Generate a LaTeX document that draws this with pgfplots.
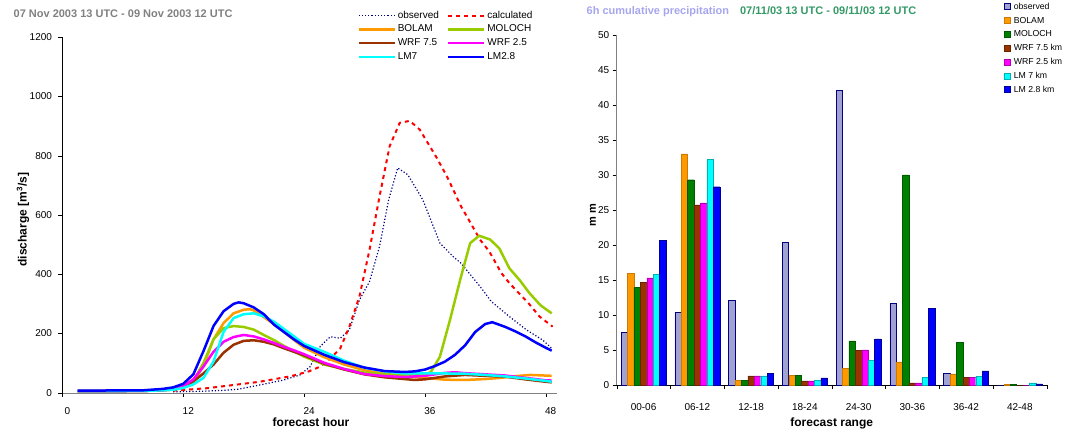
\documentclass[border=0pt]{standalone}
\usepackage{fontspec}
\setmainfont{Liberation Sans}
\usepackage{pgfplots}
\pgfplotsset{compat=1.18}
\definecolor{obsnavy}{HTML}{000080}
\definecolor{bolam}{HTML}{FF9900}
\definecolor{moloch}{HTML}{99CC00}
\definecolor{wrfa}{HTML}{993300}
\definecolor{wrfb}{HTML}{FF00FF}
\definecolor{lmseven}{HTML}{00FFFF}
\definecolor{lmtwo}{HTML}{0000FF}
\definecolor{molochbar}{HTML}{008000}
\definecolor{obsfill}{HTML}{A2A2D2}
\definecolor{titlegray}{HTML}{808080}
\definecolor{lav}{HTML}{A6A6EE}
\definecolor{sea}{HTML}{339966}
\begin{document}
\begin{tikzpicture}[x=1pt,y=1pt]
\useasboundingbox (0,0) rectangle (1065,434);
\begin{axis}[
  at={(62.5pt,41.3pt)}, anchor=south west,
  width=494.2pt, height=355.4pt, scale only axis,
  xmin=0, xmax=49.1, ymin=0, ymax=1200,
  axis lines=left, axis line style={-},
  x axis line style={gray},
  xtick={0,12,24,36,48}, ytick={0,200,...,1200},
  tick align=outside, major tick length=4pt,
  tick style={black},
  /pgf/number format/assume math mode=true,
  /pgf/number format/1000 sep={},
  tick label style={font=\fontsize{10}{12}\selectfont},
  xticklabel style={xshift=5pt, yshift=-7pt},
  yticklabel style={xshift=-3pt},
  clip=false,
  xlabel={\textbf{forecast hour}},
  xlabel style={at={(axis description cs:0.503,0)}, anchor=center, yshift=-29.3pt, font=\fontsize{12}{14}\selectfont},
  ylabel={\textbf{discharge [m\textsuperscript{3}/s]}},
  ylabel style={at={(axis description cs:0,0.487)}, anchor=center, yshift=39.5pt, font=\fontsize{12}{14}\selectfont},
  title={\textbf{07 Nov 2003 13 UTC - 09 Nov 2003 12 UTC}},
  title style={at={(axis description cs:-0.106,1.0656)}, anchor=west, yshift=-6pt, text=titlegray, font=\fontsize{11}{13}\selectfont},
  legend columns=2,
  legend cell align=left,
  legend image code/.code={\draw[#1] (0pt,0pt) -- (36pt,0pt);},
  legend style={at={(axis description cs:0.590,1.0796)}, anchor=north west, draw=none, fill=none,
    font=\fontsize{10}{12}\selectfont,
    nodes={inner sep=0pt, text height=7pt, text depth=2pt},
    row sep=4.7pt,
    /tikz/every odd column/.append style={column sep=2pt},
    /tikz/every even column/.append style={column sep=8pt}},
]
\addplot[obsnavy, line width=1.2pt, dash pattern=on 1.2pt off 2pt] coordinates {
(11,3) (14,5) (16,8) (17.5,12) (19,22) (20.6,33) (22,43) (23.6,60) (24.6,88) (25.6,156) (26.6,189) (27.6,184) (28.5,212) (29.5,313) (30.5,375) (31.5,494) (32.4,651) (33.3,759) (34.3,736) (35.3,680) (35.8,651) (37.5,505) (38.8,460) (39.6,437) (41.5,358) (42.6,308) (44.4,257) (46.1,212) (47.7,178) (48.6,150)};
\addlegendentry{observed}
\addplot[red, line width=2pt, dash pattern=on 4pt off 4pt] coordinates {
(11,7) (14.3,15) (17,26) (19.6,37) (22.6,55) (24.4,71) (25.6,88) (26.6,115) (27.6,150) (28.5,223) (29.5,325) (30.5,482) (31.5,663) (32.5,832) (33.5,911) (34.5,918) (35.5,888) (37.2,792) (38.2,730) (39.6,629) (41.5,516) (42.4,477) (43.6,404) (44.4,370) (46.3,302) (47.4,257) (48.7,223)};
\addlegendentry{calculated}
\addplot[bolam, line width=2.5pt] coordinates {
(1.5,5) (8,6) (10,9) (11,12) (12,20) (13,35) (14,90) (15,180) (16,235) (17,268) (18,280) (18.6,282) (19,278) (20,255) (21,232) (22,205) (23,178) (24,152) (26,120) (28,95) (30,76) (32,64) (34,56) (36,50) (38,44) (40,43) (42,46) (43.5,50) (45,56) (46.5,60) (48.6,57)};
\addlegendentry{BOLAM}
\addplot[moloch, line width=2.5pt] coordinates {
(1.5,5) (8,6) (10,9) (11,12) (12,20) (13,40) (14,100) (15,180) (16,218) (17,225) (18,222) (19,213) (20,195) (21,178) (22,158) (23,140) (24,122) (26,95) (28,80) (30,68) (32,62) (34,59) (35,58) (36,60) (36.6,70) (37.5,122) (38.5,246) (39.5,380) (40.5,505) (41.4,530) (42.5,517) (43.4,487) (44.4,420) (45.4,381) (46.4,336) (47.5,295) (48.6,268)};
\addlegendentry{MOLOCH}
\addplot[wrfa, line width=2.5pt] coordinates {
(1.5,5) (8,6) (10,8) (11,11) (12,18) (13,38) (14,65) (15,95) (16,135) (17,162) (18,175) (19,177) (20,172) (21,163) (22,150) (23,138) (24,126) (26,98) (28,78) (30,62) (32,52) (34,46) (35,43) (36,45) (38,55) (40,60) (42,57) (44,54) (46,45) (48,37) (48.6,35)};
\addlegendentry{WRF 7.5}
\addplot[wrfb, line width=2.5pt] coordinates {
(1.5,5) (8,6) (10,9) (11,12) (12,22) (13,45) (14,88) (15,138) (16,172) (17,188) (18,195) (19,190) (20,180) (21,168) (22,155) (23,143) (24,130) (26,101) (28,80) (30,63) (32,56) (34,53) (36,57) (38,67) (39,69) (40,66) (42,62) (44,58) (46,50) (48,42) (48.6,41)};
\addlegendentry{WRF 2.5}
\addplot[lmseven, line width=2.5pt] coordinates {
(1.5,5) (8,6) (10,8) (11,10) (12,16) (13,28) (14,50) (15,105) (16,205) (17,252) (18,265) (19,268) (20,258) (21,240) (22,215) (23,190) (24,165) (26,138) (28,108) (30,84) (32,72) (34,65) (36,65) (38,65) (40,64) (42,60) (44,55) (46,48) (48,40) (48.6,37)};
\addlegendentry{LM7}
\addplot[lmtwo, line width=2.5pt] coordinates {
(1.5,7) (8,8) (10,13) (11,18) (12,30) (13,62) (14,140) (15,225) (16,275) (17,300) (17.5,305) (18,302) (19,288) (20,265) (21,230) (22,205) (23,180) (24,158) (26,128) (28,103) (30,85) (32,73) (34,70) (35,72) (36,78) (37,90) (38,105) (39,128) (40,160) (41,205) (42,232) (42.7,238) (44,222) (45,207) (46,190) (47,170) (48,152) (48.6,142)};
\addlegendentry{LM2.8}
\end{axis}
\begin{axis}[
  at={(616.7pt,49pt)}, anchor=south west,
  width=430pt, height=350.3pt, scale only axis,
  ybar=0pt, bar width=6.43pt,
  xmin=-0.5, xmax=7.5, ymin=0, ymax=50,
  axis lines=left, axis line style={-},
  y axis line style={gray, line width=1.5pt},
  xtick={0,...,7},
  xticklabels={00-06,06-12,12-18,18-24,24-30,30-36,36-42,42-48},
  major x tick style={draw=none},
  minor xtick={-0.5,0.5,...,7.5},
  ytick={0,5,...,50},
  tick align=outside, major tick length=4pt, minor tick length=4pt,
  tick style={black},
  /pgf/number format/assume math mode=true,
  tick label style={font=\fontsize{10}{12}\selectfont},
  xticklabel style={yshift=-11pt},
  clip=false,
  xlabel={\textbf{forecast range}},
  xlabel style={at={(axis description cs:0.5,0)}, anchor=center, yshift=-38pt, font=\fontsize{12}{14}\selectfont},
  ylabel={\textbf{m m}},
  ylabel style={at={(axis description cs:0,0.485)}, anchor=center, yshift=23.7pt, font=\fontsize{11}{13}\selectfont},
  title={\textbf{\color{lav}6h cumulative precipitation}\hspace{11pt}\textbf{\color{sea}07/11/03 13 UTC - 09/11/03 12 UTC}},
  title style={at={(axis description cs:-0.078,1.065)}, anchor=west, yshift=-6pt, font=\fontsize{11}{13}\selectfont},
  legend cell align=left,
  legend image code/.code={\draw[#1] (0pt,-3pt) rectangle (6pt,3pt);},
  legend style={at={(axis description cs:0.8937,1.099)}, anchor=north west, draw=none, fill=none,
    font=\fontsize{8.7}{10}\selectfont,
    nodes={inner sep=0pt, text height=7pt, text depth=2pt},
    row sep=4.8pt,
    /tikz/every odd column/.append style={column sep=3pt}},
]
\addplot[fill=obsfill, draw=obsnavy, line width=0.6pt] coordinates {(0,7.5) (1,10.4) (2,12.1) (3,20.4) (4,42.1) (5,11.6) (6,1.7) (7,0)};
\addlegendentry{observed}
\addplot[fill=bolam, draw=bolam!80!black, line width=0.4pt] coordinates {(0,15.9) (1,33.0) (2,0.7) (3,1.4) (4,2.4) (5,3.3) (6,1.6) (7,0.1)};
\addlegendentry{BOLAM}
\addplot[fill=molochbar, draw=molochbar!70!black, line width=0.4pt] coordinates {(0,13.9) (1,29.3) (2,0.7) (3,1.4) (4,6.3) (5,30.0) (6,6.1) (7,0.1)};
\addlegendentry{MOLOCH}
\addplot[fill=wrfa, draw=wrfa!70!black, line width=0.4pt] coordinates {(0,14.7) (1,25.7) (2,1.3) (3,0.6) (4,4.9) (5,0.3) (6,1.1) (7,0)};
\addlegendentry{WRF 7.5 km}
\addplot[fill=wrfb, draw=wrfb!70!black, line width=0.4pt] coordinates {(0,15.3) (1,26.0) (2,1.3) (3,0.6) (4,5.0) (5,0.3) (6,1.1) (7,0)};
\addlegendentry{WRF 2.5 km}
\addplot[fill=lmseven, draw=lmseven!70!black, line width=0.4pt] coordinates {(0,15.8) (1,32.2) (2,1.3) (3,0.7) (4,3.5) (5,1.1) (6,1.2) (7,0.3)};
\addlegendentry{LM 7 km}
\addplot[fill=lmtwo, draw=lmtwo!60!black, line width=0.4pt] coordinates {(0,20.6) (1,28.3) (2,1.7) (3,1.0) (4,6.6) (5,10.9) (6,2.0) (7,0.15)};
\addlegendentry{LM 2.8 km}
\end{axis}
\end{tikzpicture}
\end{document}
